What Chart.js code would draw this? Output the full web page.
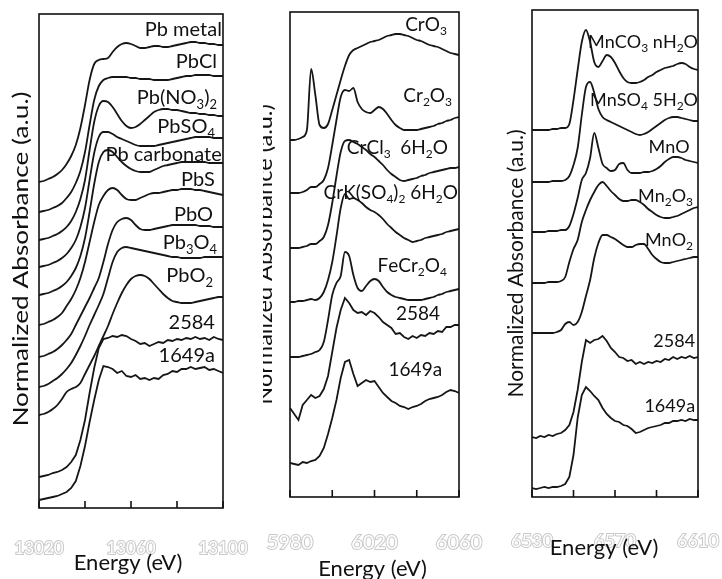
<!DOCTYPE html>
<html>
<head>
<meta charset="utf-8">
<script src="https://cdn.jsdelivr.net/npm/chart.js@4.4.1/dist/chart.umd.min.js"></script>
<style>
  body { margin: 0; background: #fff; }
  #wrap { position: relative; width: 722px; height: 579px; overflow: hidden; background: #fff; }
  canvas { position: absolute; top: 0; }
</style>
</head>
<body>
<div id="wrap">
  <canvas id="pb" width="250" height="579" style="left:0px"></canvas>
  <canvas id="cr" width="223" height="579" style="left:263px"></canvas>
  <canvas id="mn" width="236" height="579" style="left:486px"></canvas>
</div>
<script>
// energy grids (eV), 2 eV steps
const pbEnergy = Array.from({ length: 41 }, (_, i) => 13020 + 2 * i);
const crEnergy = Array.from({ length: 41 }, (_, i) => 5980 + 2 * i);
const mnEnergy = Array.from({ length: 41 }, (_, i) => 6530 + 2 * i);

const pbTicks = [13020, 13060, 13100];
const crTicks = [5980, 6020, 6060];
const mnTicks = [6530, 6570, 6610];

// Pb L3-edge, stacked normalized absorbance (a.u., offset)
const pbMetal = [326,327,329,331,334,338,344,352,363,380,403,428,444,448,449,450,456,461,464,465,464,462,460,460,461,462,462,461,461,462,463,464,465,466,466,465,465,464,464,463,463];
const pbCl = [296,297,298,300,302,305,310,316,325,337,356,383,408,422,428,430,431,431,431,431,430,430,429,429,429,428,428,428,428,429,430,431,432,432,433,433,433,433,432,432,432];
const pbNitrate = [268,269,270,272,274,277,281,287,296,309,328,358,386,402,407,406,401,394,387,382,380,381,384,388,392,396,398,399,399,398,398,397,396,395,395,394,394,393,393,392,392];
const pbSulfate = [241,242,243,245,247,250,254,260,268,281,300,328,355,371,376,376,374,371,369,367,365,363,362,362,362,362,363,364,365,366,367,368,369,370,371,371,371,371,370,370,370];
const pbCarbonate = [213,214,215,217,219,222,226,232,240,252,270,296,324,346,356,358,356,351,346,342,339,337,336,336,336,338,340,342,343,344,345,346,346,346,346,346,346,345,345,345,345];
const pbS = [183,184,186,188,191,195,202,209,218,230,246,266,286,303,312,318,320,318,313,309,308,308,310,312,314,315,315,316,317,318,318,319,319,319,318,318,317,316,315,314,313];
const pbO = [151,152,154,156,159,163,168,174,183,192,201,210,220,230,246,264,278,286,289,290,288,283,279,278,278,279,280,281,282,283,283,283,283,283,283,282,282,282,281,281,281];
const pb3O4 = [121,122,124,127,130,134,139,145,153,162,172,183,193,203,214,230,246,256,260,261,260,259,258,257,256,255,254,253,252,251,251,250,250,250,250,250,251,251,251,251,251];
const pbO2 = [93,94,96,99,103,109,116,119,121,125,134,143,152,162,172,182,194,205,215,223,229,232,233,232,229,224,219,214,210,207,206,205,205,205,206,207,208,209,210,211,211];
const pb2584 = [31,32,33,35,36,38,41,46,53,68,88,115,140,160,169,170,172,171,173,172,169,167,164,165,162,164,166,165,168,167,169,168,170,169,171,169,170,168,171,169,168];
const pb1649a = [8,9,10,11,12,14,16,20,27,42,62,86,108,128,142,141,139,135,137,132,131,133,129,130,128,130,129,133,134,137,136,139,139,141,139,140,141,138,139,137,135];

// Cr K-edge
const crO3 = [357,357,358,360,367,428,402,372,369,373,387,402,417,431,442,447,449,451,453,455,456,457,459,461,462,463,463,462,461,459,457,456,454,452,451,450,448,446,444,443,442];
const cr2O3 = [304,304,304,305,307,310,310,313,317,329,352,377,400,407,406,409,395,388,385,384,387,390,388,383,377,372,369,367,367,367,367,368,369,370,371,373,374,376,377,379,380];
const crCl3 = [249,249,249,250,251,253,253,256,260,272,294,321,345,356,357,355,353,350,347,343,340,336,332,327,323,320,317,316,317,318,319,321,322,324,325,326,327,328,329,329,330];
const crKSulfate = [195,195,196,196,197,198,197,199,205,217,235,261,289,303,298,299,297,294,290,287,285,282,278,273,269,265,262,259,257,255,256,257,259,260,261,262,263,265,266,267,268];
const feCr2O4 = [140,140,140,141,142,143,145,147,155,177,202,214,221,245,241,222,209,206,211,216,218,216,210,205,202,200,199,198,197,197,197,197,198,199,200,202,203,205,206,207,208];
const cr2584 = [89,83,77,92,97,102,99,101,108,121,145,169,187,199,194,187,184,185,182,186,184,180,175,172,169,163,164,160,158,161,159,162,161,164,163,166,165,170,170,172,172];
const cr1649a = [34,33,32,35,34,36,37,41,49,63,79,97,119,135,137,123,111,114,117,115,116,110,104,100,96,94,91,90,88,90,91,93,96,98,99,100,102,105,107,106,104];

// Mn K-edge
const mnCO3 = [367,367,367,367,367,368,368,369,369,373,397,427,455,467,455,435,430,436,442,440,434,426,419,415,414,414,415,417,420,422,425,427,429,430,431,433,434,433,430,428,427];
const mnSO4 = [315,315,315,315,315,316,316,316,317,321,332,349,382,410,415,404,388,380,377,375,373,371,369,367,365,363,362,363,365,368,371,374,377,379,380,380,379,378,377,376,376];
const mnO = [265,265,265,265,266,266,266,267,267,271,283,299,317,324,339,364,349,333,329,326,327,333,334,327,324,324,324,325,325,326,328,331,335,338,340,340,339,337,336,335,334];
const mn2O3 = [214,214,214,214,215,215,215,216,220,235,248,257,275,287,297,305,312,315,311,306,302,298,296,296,297,297,295,292,288,285,282,280,279,279,280,281,283,285,287,289,290];
const mnO2 = [164,164,164,164,164,164,165,167,173,175,172,175,185,201,217,239,254,262,262,260,258,255,252,250,250,252,253,253,248,242,238,235,234,234,235,236,237,238,239,240,240];
const mn2584 = [60,59,61,60,62,61,63,64,67,72,85,107,135,157,154,157,158,161,156,149,145,140,139,136,137,133,135,133,135,134,136,135,138,137,140,138,140,139,141,139,140];
const mn1649a = [9,8,9,10,9,10,10,11,13,20,42,79,102,110,106,101,97,89,83,79,76,75,72,71,68,64,65,67,69,70,71,72,74,74,76,76,77,76,78,77,77];

// curve names ("_" = next char is subscript)
const pbNames = ['Pb metal', 'PbCl', 'Pb(NO_3)_2', 'PbSO_4', 'Pb carbonate', 'PbS', 'PbO', 'Pb_3O_4', 'PbO_2', '2584', '1649a'];
const crNames = ['CrO_3', 'Cr_2O_3', 'CrCl_3  6H_2O', 'CrK(SO_4)_2 6H_2O', 'FeCr_2O_4', '2584', '1649a'];
const mnNames = ['MnCO_3 nH_2O', 'MnSO_4 5H_2O', 'MnO', 'Mn_2O_3', 'MnO_2', '2584', '1649a'];

// where each name sits (right end energy, height in a.u.)
const pbLabelE = [13099.5, 13097.4, 13097.4, 13096.5, 13099.5, 13096.5, 13095.7, 13097.4, 13095.7, 13096.5, 13096.5];
const pbLabelA = [478, 446, 410, 381, 353, 328, 293, 265, 232, 185, 152];
const crLabelE = [6054.3, 6056.7, 6054.8, 6059.5, 6054.3, 6051, 6052];
const crLabelA = [472, 401, 349, 304, 231, 183, 127];
const mnLabelE = [6610, 6610, 6606, 6607.6, 6607.6, 6608.6, 6608.6];
const mnLabelA = [455, 397, 350, 301, 257, 156, 91];

const FONT = 'Lato, "Open Sans", sans-serif';

function drawRich(ctx, text, right, mid, size) {
  var parts = [];
  for (var i = 0; i < text.length; i++) {
    if (text[i] === '_' && i + 1 < text.length) { parts.push({ t: text[i + 1], sub: true }); i++; }
    else parts.push({ t: text[i], sub: false });
  }
  var big = size + 'px ' + FONT, small = Math.round(size * 0.65) + 'px ' + FONT;
  var w = 0;
  parts.forEach(p => { ctx.font = p.sub ? small : big; p.w = ctx.measureText(p.t).width; w += p.w; });
  var x = right - w;
  ctx.textAlign = 'left';
  ctx.textBaseline = 'middle';
  parts.forEach(p => {
    ctx.font = p.sub ? small : big;
    ctx.fillText(p.t, x, p.sub ? mid + size * 0.32 : mid);
    x += p.w;
  });
}

// box, inward ticks, curve names and axis titles
const panelDecor = {
  id: 'panelDecor',
  afterDraw(chart, args, o) {
    const ctx = chart.ctx, a = chart.chartArea, xs = chart.scales.x, ys = chart.scales.y;
    ctx.save();
    ctx.strokeStyle = '#111';
    ctx.lineWidth = 1.6;
    ctx.strokeRect(a.left, a.top, a.right - a.left, a.bottom - a.top);
    xs.ticks.forEach(t => {
      const px = xs.getPixelForValue(t.value);
      ctx.beginPath();
      ctx.moveTo(px, a.bottom);
      ctx.lineTo(px, a.bottom - 7);
      ctx.stroke();
    });
    ctx.fillStyle = '#111';
    o.names.forEach((n, i) => drawRich(ctx, n, xs.getPixelForValue(o.labelE[i]), ys.getPixelForValue(o.labelA[i]), o.labelSize));
    ctx.font = '22px ' + FONT;
    ctx.textAlign = 'center';
    ctx.textBaseline = 'middle';
    ctx.fillText('Energy (eV)', (a.left + a.right) / 2 + o.xTitleDx, a.bottom + o.xTitleDy);
    ctx.translate(a.left + o.yTitleDx, (a.top + a.bottom) / 2 + o.yTitleDy);
    ctx.rotate(-Math.PI / 2);
    ctx.scale(o.yStretch, 1);
    ctx.font = '21px ' + FONT;
    ctx.textBaseline = 'alphabetic';
    ctx.fillText('Normalized Absorbance (a.u.)', 0, 0);
    ctx.restore();
  }
};

function makePanel(id, energy, series, ticks, yMax, box, decor) {
  const datasets = series.map((vals, i) => {
    const noisy = i >= series.length - 2;
    return {
      data: vals.map((v, k) => ({ x: energy[k], y: v })),
      borderColor: '#161616',
      borderWidth: 1.8,
      pointRadius: 0,
      fill: false,
      tension: noisy ? 0 : 0.4,
      cubicInterpolationMode: noisy ? 'default' : 'monotone'
    };
  });
  new Chart(document.getElementById(id), {
    type: 'line',
    data: { datasets: datasets },
    plugins: [panelDecor],
    options: {
      responsive: false,
      animation: false,
      devicePixelRatio: 1,
      layout: { padding: { top: box.top, right: box.right, left: 0, bottom: 0 } },
      plugins: { legend: { display: false }, tooltip: { enabled: false }, panelDecor: decor },
      scales: {
        x: {
          type: 'linear',
          min: ticks[0],
          max: ticks[ticks.length - 1],
          afterFit: s => { s.height = box.bottom; s.paddingLeft = 0; s.paddingRight = 0; },
          grid: { display: false },
          border: { display: false },
          ticks: {
            stepSize: 20,
            autoSkip: false,
            maxRotation: 0,
            padding: box.tickPad,
            font: { family: FONT, size: box.tickSize },
            color: '#ffffff',
            textStrokeColor: '#c9c9c9',
            textStrokeWidth: 2,
            callback: v => ticks.includes(v) ? String(v) : ''
          }
        },
        y: {
          min: 0,
          max: yMax,
          afterFit: s => { s.width = box.left; s.paddingTop = 0; s.paddingBottom = 0; },
          grid: { display: false },
          border: { display: false },
          ticks: { display: false }
        }
      }
    }
  });
}

makePanel('pb', pbEnergy,
  [pbMetal, pbCl, pbNitrate, pbSulfate, pbCarbonate, pbS, pbO, pb3O4, pbO2, pb2584, pb1649a],
  pbTicks, 494,
  { top: 14, right: 27, left: 39, bottom: 71, tickPad: 22, tickSize: 17 },
  { names: pbNames, labelE: pbLabelE, labelA: pbLabelA, labelSize: 20, xTitleDx: -3, xTitleDy: 55, yTitleDx: -11, yTitleDy: -2, yStretch: 1.25 });

makePanel('cr', crEnergy,
  [crO3, cr2O3, crCl3, crKSulfate, feCr2O4, cr2584, cr1649a],
  crTicks, 485,
  { top: 12, right: 27, left: 27, bottom: 82, tickPad: 26, tickSize: 20 },
  { names: crNames, labelE: crLabelE, labelA: crLabelA, labelSize: 19, xTitleDx: -2, xTitleDy: 72, yTitleDx: -18, yTitleDy: 0, yStretch: 1.12 });

makePanel('mn', mnEnergy,
  [mnCO3, mnSO4, mnO, mn2O3, mnO2, mn2584, mn1649a],
  mnTicks, 487,
  { top: 10, right: 24, left: 46, bottom: 82, tickPad: 25, tickSize: 18 },
  { names: mnNames, labelE: mnLabelE, labelA: mnLabelA, labelSize: 18, xTitleDx: -11, xTitleDy: 51, yTitleDx: -9, yTitleDy: 10, yStretch: 1 });
</script>
</body>
</html>
